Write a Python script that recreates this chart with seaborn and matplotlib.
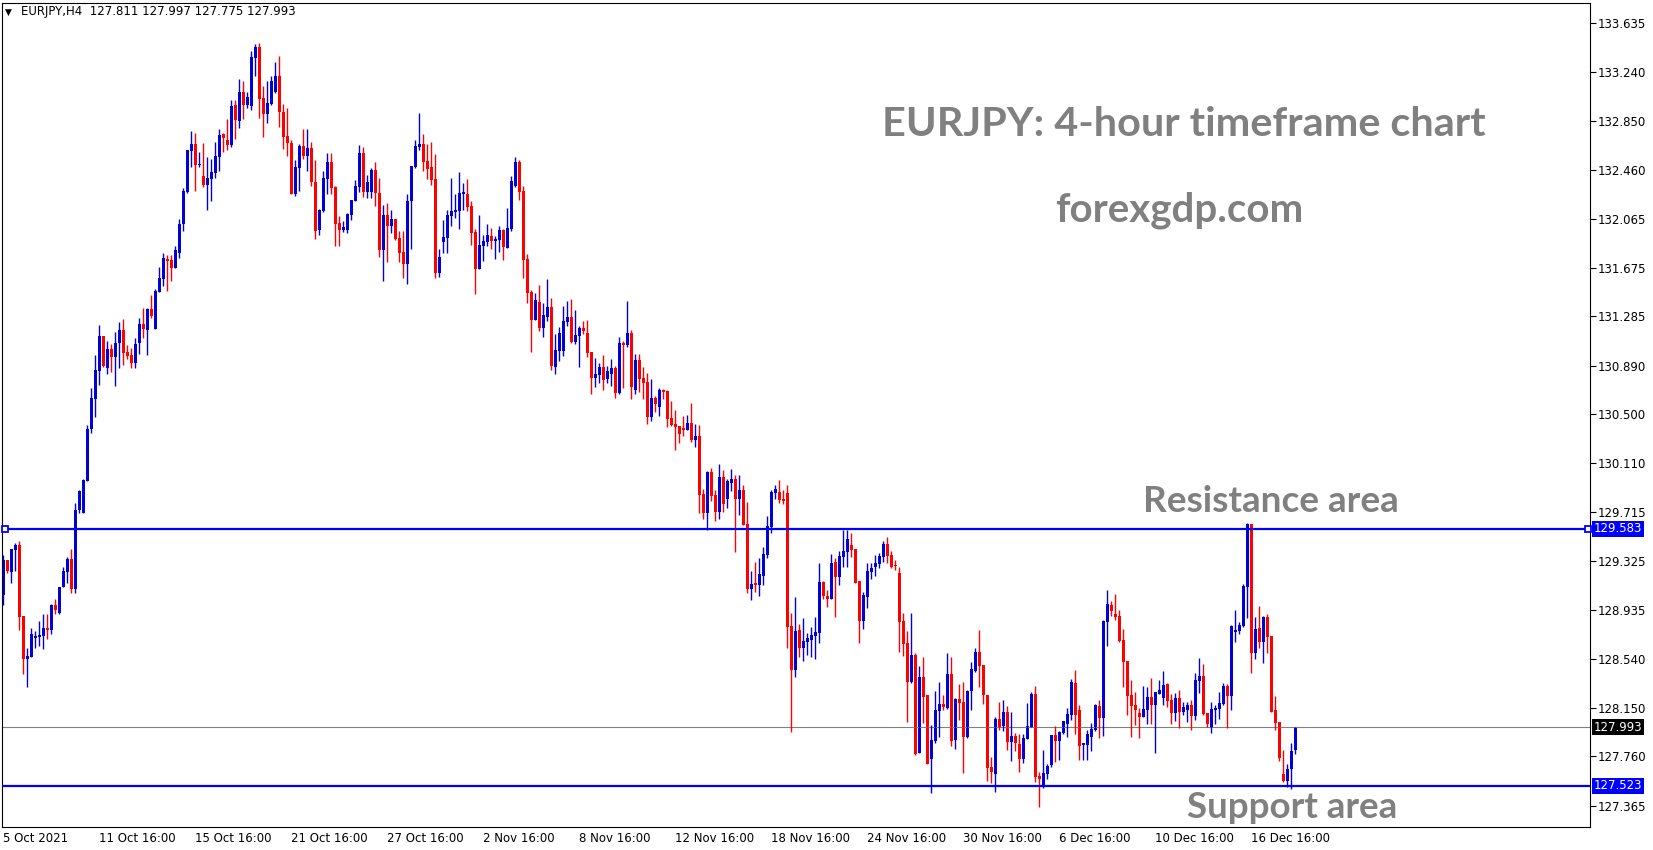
"""EURJPY H4 candlestick chart with support / resistance zones."""

import matplotlib

matplotlib.use("Agg")
import matplotlib.pyplot as plt
import matplotlib.transforms as mtransforms
import numpy as np
import seaborn as sns

# ---- data ----------------------------------------------------------------
OPENS = [
    129.051, 129.332, 129.238, 129.412, 129.452, 128.883, 128.536, 128.557, 128.707, 128.717,
    128.725, 128.787, 128.771, 128.971, 128.910, 129.113, 129.238, 129.343, 129.102, 129.733,
    129.711, 129.968, 130.379, 130.625, 130.850, 131.127, 130.874, 131.023, 130.962, 131.069,
    131.176, 130.999, 130.975, 130.914, 131.074, 131.224, 131.178, 131.344, 131.186, 131.483,
    131.587, 131.745, 131.737, 131.675, 131.795, 132.028, 132.282, 132.613, 132.666, 132.498,
    132.410, 132.340, 132.388, 132.437, 132.565, 132.746, 132.698, 132.658, 132.979, 132.853,
    133.083, 132.979, 132.974, 133.358, 133.444, 133.038, 132.907, 132.987, 133.083, 133.211,
    132.926, 132.730, 132.677, 132.266, 132.477, 132.650, 132.570, 132.634, 132.362, 131.977,
    132.129, 132.388, 132.522, 132.322, 132.033, 131.977, 131.977, 132.100, 132.212, 132.324,
    132.594, 132.284, 132.284, 132.458, 132.271, 131.817, 132.097, 132.009, 132.065, 131.913,
    131.801, 131.707, 132.209, 132.485, 132.645, 132.666, 132.530, 132.482, 132.386, 131.632,
    131.881, 131.913, 132.089, 132.124, 132.129, 132.266, 132.266, 132.169, 131.961, 131.664,
    131.849, 131.881, 131.929, 131.891, 131.897, 131.977, 131.835, 131.985, 132.330, 132.522,
    132.290, 131.745, 131.480, 131.258, 131.400, 131.194, 131.282, 131.360, 130.882, 131.010,
    131.010, 131.242, 131.280, 131.079, 131.130, 131.192, 131.152, 130.999, 130.794, 130.818,
    130.879, 130.785, 130.826, 130.871, 130.673, 131.071, 131.058, 131.152, 130.697, 130.935,
    130.791, 130.759, 130.481, 130.631, 130.561, 130.695, 130.687, 130.471, 130.425, 130.406,
    130.390, 130.377, 130.430, 130.294, 130.326, 129.861, 129.712, 130.040, 129.853, 129.720,
    129.998, 129.824, 129.950, 129.984, 129.824, 129.893, 129.621, 129.100, 129.148, 129.132,
    129.207, 129.372, 129.600, 129.869, 129.877, 129.824, 129.870, 128.803, 128.451, 128.771,
    128.630, 128.675, 128.691, 128.723, 128.750, 129.156, 129.044, 129.020, 129.316, 129.199,
    129.359, 129.399, 129.453, 129.421, 129.164, 128.846, 129.038, 129.239, 129.279, 129.300,
    129.359, 129.461, 129.372, 129.292, 129.228, 128.843, 128.667, 128.352, 128.571, 127.786,
    128.395, 128.251, 127.740, 127.885, 128.125, 128.179, 128.147, 128.419, 127.893, 128.219,
    128.195, 127.914, 128.283, 128.446, 128.595, 128.491, 128.251, 127.676, 127.620, 128.058,
    128.002, 128.115, 127.877, 127.922, 127.858, 127.740, 127.898, 127.997, 128.259, 127.604,
    127.516, 127.620, 127.689, 127.929, 127.881, 127.948, 128.020, 128.090, 128.346, 128.130,
    127.849, 127.849, 127.916, 127.969, 128.162, 128.068, 128.838, 128.971, 128.899, 128.883,
    128.691, 128.523, 128.250, 128.170, 128.106, 128.076, 128.130, 128.234, 128.170, 128.261,
    128.226, 128.338, 128.210, 128.108, 128.226, 128.116, 128.130, 128.170, 128.084, 128.365,
    128.405, 128.108, 127.988, 128.130, 128.138, 128.181, 128.322, 128.245, 128.755, 128.766,
    128.803, 129.118, 129.621, 128.589, 128.787, 128.678, 128.875, 128.723, 128.130, 128.034,
    127.617, 127.563, 127.657, 127.811,
]
HIGHS = [
    129.372, 129.332, 129.420, 129.473, 129.484, 128.883, 128.624, 128.784, 128.763, 128.843,
    128.904, 128.904, 128.979, 129.017, 129.118, 129.278, 129.359, 129.423, 129.791, 129.893,
    129.981, 130.414, 130.713, 130.975, 131.216, 131.127, 131.087, 131.063, 131.160, 131.237,
    131.264, 131.053, 131.029, 131.109, 131.269, 131.349, 131.354, 131.456, 131.507, 131.680,
    131.795, 131.774, 131.774, 131.849, 132.065, 132.311, 132.618, 132.771, 132.752, 132.600,
    132.674, 132.559, 132.546, 132.682, 132.784, 132.757, 132.867, 133.019, 133.019, 133.187,
    133.171, 133.083, 133.412, 133.468, 133.476, 133.131, 133.171, 133.211, 133.324, 133.372,
    132.984, 132.952, 132.698, 132.538, 132.666, 132.787, 132.787, 132.682, 132.538, 132.145,
    132.450, 132.594, 132.594, 132.332, 132.089, 132.049, 132.113, 132.217, 132.378, 132.658,
    132.642, 132.418, 132.474, 132.522, 132.394, 132.177, 132.191, 132.137, 132.065, 131.969,
    131.969, 132.266, 132.490, 132.698, 132.915, 132.746, 132.666, 132.682, 132.586, 131.825,
    132.057, 132.137, 132.394, 132.266, 132.442, 132.354, 132.386, 132.209, 131.985, 132.097,
    131.937, 132.025, 131.993, 131.929, 132.009, 131.985, 132.153, 132.410, 132.562, 132.538,
    132.330, 131.785, 131.496, 131.472, 131.536, 131.392, 131.584, 131.432, 131.144, 131.200,
    131.368, 131.408, 131.424, 131.336, 131.210, 131.248, 131.256, 130.999, 130.951, 130.911,
    130.975, 130.887, 130.943, 130.887, 131.119, 131.087, 131.408, 131.176, 130.983, 130.983,
    130.879, 130.831, 130.783, 130.647, 130.711, 130.703, 130.695, 130.607, 130.535, 130.406,
    130.487, 130.495, 130.591, 130.422, 130.414, 129.901, 130.048, 130.070, 129.893, 130.102,
    130.054, 129.984, 130.062, 130.014, 130.014, 129.934, 129.797, 129.244, 129.316, 129.348,
    129.436, 129.685, 129.893, 129.934, 129.974, 129.893, 129.930, 128.905, 129.036, 128.819,
    128.867, 128.747, 128.795, 128.875, 129.308, 129.164, 129.092, 129.380, 129.348, 129.404,
    129.573, 129.573, 129.549, 129.421, 129.164, 129.079, 129.308, 129.308, 129.372, 129.388,
    129.485, 129.517, 129.404, 129.332, 129.276, 128.908, 128.763, 128.908, 128.585, 128.483,
    128.555, 128.251, 128.010, 128.283, 128.355, 128.251, 128.587, 128.555, 128.227, 128.339,
    128.355, 128.291, 128.515, 128.628, 128.772, 128.491, 128.251, 127.756, 128.074, 128.195,
    128.211, 128.163, 128.115, 127.946, 127.938, 127.938, 128.187, 128.275, 128.323, 127.636,
    127.810, 127.700, 127.929, 128.004, 127.961, 128.042, 128.146, 128.378, 128.450, 128.170,
    127.865, 127.969, 128.026, 128.178, 128.210, 128.851, 129.092, 129.003, 129.060, 128.931,
    128.779, 128.523, 128.370, 128.274, 128.146, 128.322, 128.314, 128.386, 128.274, 128.370,
    128.442, 128.346, 128.258, 128.266, 128.290, 128.194, 128.194, 128.210, 128.426, 128.547,
    128.499, 128.108, 128.194, 128.170, 128.274, 128.346, 128.336, 128.811, 128.931, 128.835,
    129.140, 129.629, 129.621, 128.875, 128.963, 128.883, 128.899, 128.723, 128.242, 128.034,
    127.809, 127.697, 127.865, 127.997,
]
LOWS = [
    128.971, 129.225, 129.150, 129.246, 128.771, 128.423, 128.316, 128.557, 128.624, 128.645,
    128.616, 128.696, 128.739, 128.904, 128.899, 129.113, 129.150, 129.070, 129.065, 129.706,
    129.706, 129.968, 130.353, 130.481, 130.735, 130.876, 130.823, 130.841, 130.727, 130.868,
    130.895, 130.943, 130.874, 130.868, 130.983, 131.114, 130.975, 131.274, 131.186, 131.483,
    131.528, 131.491, 131.571, 131.675, 131.755, 131.972, 132.274, 132.485, 132.292, 132.485,
    132.324, 132.137, 132.212, 132.396, 132.450, 132.605, 132.618, 132.640, 132.706, 132.795,
    132.867, 132.958, 132.939, 133.214, 132.875, 132.725, 132.832, 132.979, 133.072, 132.805,
    132.629, 132.573, 132.266, 132.252, 132.292, 132.546, 132.453, 132.332, 131.905, 131.937,
    132.124, 132.266, 132.266, 131.849, 131.849, 131.964, 131.956, 132.057, 132.212, 132.284,
    132.239, 132.231, 132.231, 132.172, 131.763, 131.571, 131.723, 131.956, 131.897, 131.720,
    131.592, 131.544, 131.825, 132.477, 132.618, 132.453, 132.386, 132.338, 131.592, 131.600,
    131.795, 131.793, 132.009, 132.073, 131.985, 132.137, 132.129, 131.857, 131.464, 131.664,
    131.728, 131.849, 131.825, 131.744, 131.801, 131.736, 131.835, 131.969, 132.322, 132.217,
    131.592, 131.395, 131.002, 131.258, 131.170, 131.122, 131.250, 130.858, 130.826, 130.927,
    130.970, 131.210, 131.071, 131.063, 130.882, 131.146, 130.962, 130.665, 130.721, 130.753,
    130.697, 130.753, 130.729, 130.633, 130.665, 130.713, 131.042, 130.625, 130.665, 130.681,
    130.625, 130.425, 130.449, 130.519, 130.487, 130.623, 130.401, 130.406, 130.214, 130.273,
    130.326, 130.374, 130.281, 130.241, 129.712, 129.664, 129.573, 129.808, 129.648, 129.664,
    129.720, 129.752, 129.888, 129.399, 129.693, 129.613, 129.070, 129.012, 129.078, 129.044,
    129.132, 129.351, 129.551, 129.824, 129.792, 129.781, 128.624, 127.956, 128.397, 128.558,
    128.525, 128.571, 128.555, 128.541, 128.670, 129.020, 128.956, 129.020, 128.878, 129.132,
    129.276, 129.276, 129.354, 129.145, 128.670, 128.782, 128.950, 129.183, 129.204, 129.268,
    129.316, 129.308, 129.268, 129.252, 128.598, 128.566, 128.036, 128.346, 127.770, 127.786,
    128.029, 127.700, 127.468, 127.869, 127.914, 128.131, 128.139, 127.842, 127.821, 128.050,
    127.626, 127.906, 128.131, 128.438, 128.318, 128.179, 127.564, 127.548, 127.473, 127.970,
    127.962, 127.810, 127.724, 127.802, 127.636, 127.708, 127.898, 127.997, 127.556, 127.356,
    127.508, 127.580, 127.676, 127.716, 127.729, 127.937, 127.916, 128.050, 127.937, 127.729,
    127.729, 127.729, 127.801, 127.961, 127.908, 127.921, 128.643, 128.883, 128.851, 128.678,
    128.314, 128.090, 127.913, 128.010, 127.905, 128.076, 128.018, 128.018, 127.785, 128.258,
    128.170, 128.154, 128.018, 128.044, 127.988, 128.090, 128.036, 127.972, 128.052, 128.269,
    128.090, 127.996, 127.948, 128.020, 128.058, 128.170, 127.988, 128.130, 128.675, 128.742,
    128.798, 128.865, 128.429, 128.541, 128.630, 128.509, 128.589, 128.116, 127.969, 127.724,
    127.555, 127.515, 127.494, 127.775,
]
CLOSES = [
    129.332, 129.246, 129.420, 129.452, 128.878, 128.536, 128.562, 128.739, 128.723, 128.733,
    128.784, 128.771, 128.971, 128.931, 129.118, 129.246, 129.343, 129.102, 129.733, 129.885,
    129.973, 130.382, 130.633, 130.855, 131.127, 130.887, 131.023, 130.962, 131.074, 131.176,
    130.994, 130.970, 130.914, 131.068, 131.224, 131.186, 131.344, 131.288, 131.488, 131.592,
    131.753, 131.731, 131.675, 131.817, 132.025, 132.290, 132.618, 132.666, 132.498, 132.506,
    132.338, 132.394, 132.442, 132.570, 132.738, 132.717, 132.658, 132.971, 132.859, 133.083,
    132.979, 133.043, 133.364, 133.444, 133.027, 132.907, 132.992, 133.171, 133.211, 132.926,
    132.725, 132.672, 132.266, 132.482, 132.650, 132.570, 132.634, 132.362, 131.969, 132.137,
    132.394, 132.522, 132.316, 132.028, 131.977, 132.001, 132.105, 132.217, 132.330, 132.594,
    132.284, 132.362, 132.458, 132.271, 131.817, 132.097, 132.009, 132.065, 131.905, 131.795,
    131.707, 132.209, 132.490, 132.650, 132.666, 132.525, 132.466, 132.378, 131.632, 131.760,
    131.921, 132.097, 132.129, 132.137, 132.274, 132.282, 132.161, 131.953, 131.664, 131.857,
    131.889, 131.937, 131.889, 131.905, 131.977, 131.841, 131.993, 132.370, 132.522, 132.282,
    131.736, 131.475, 131.258, 131.416, 131.194, 131.296, 131.360, 130.890, 131.015, 131.152,
    131.248, 131.280, 131.079, 131.136, 131.192, 131.170, 130.994, 130.794, 130.823, 130.879,
    130.777, 130.847, 130.871, 130.673, 131.071, 131.058, 131.152, 130.721, 130.935, 130.785,
    130.753, 130.481, 130.631, 130.583, 130.695, 130.682, 130.465, 130.414, 130.401, 130.345,
    130.374, 130.430, 130.294, 130.326, 129.853, 129.712, 130.040, 129.845, 129.720, 129.998,
    129.784, 129.968, 129.984, 129.824, 129.893, 129.613, 129.100, 129.140, 129.132, 129.220,
    129.380, 129.605, 129.877, 129.901, 129.813, 129.808, 128.798, 128.451, 128.763, 128.630,
    128.683, 128.707, 128.731, 128.755, 129.156, 129.044, 129.020, 129.308, 129.199, 129.364,
    129.404, 129.501, 129.413, 129.151, 128.846, 129.052, 129.244, 129.268, 129.308, 129.364,
    129.461, 129.364, 129.279, 129.287, 128.838, 128.662, 128.357, 128.571, 127.778, 128.395,
    128.235, 127.700, 127.890, 128.131, 128.179, 128.155, 128.419, 127.885, 128.219, 128.187,
    127.914, 128.283, 128.459, 128.595, 128.483, 128.251, 127.668, 127.636, 128.058, 127.997,
    128.115, 127.877, 127.922, 127.869, 127.740, 127.906, 128.002, 128.259, 127.596, 127.580,
    127.626, 127.680, 127.929, 127.884, 127.953, 128.042, 128.098, 128.354, 128.090, 127.844,
    127.865, 127.937, 127.977, 128.170, 128.068, 128.843, 128.979, 128.926, 128.878, 128.683,
    128.515, 128.242, 128.165, 128.130, 128.076, 128.138, 128.234, 128.170, 128.274, 128.290,
    128.330, 128.202, 128.108, 128.226, 128.116, 128.154, 128.170, 128.084, 128.370, 128.405,
    128.100, 128.018, 128.138, 128.146, 128.186, 128.322, 128.245, 128.803, 128.771, 128.811,
    129.124, 129.621, 128.589, 128.779, 128.675, 128.875, 128.715, 128.116, 128.028, 127.742,
    127.563, 127.657, 127.801, 127.993,
]

Y_TICKS = [
    133.635, 133.240, 132.850, 132.460, 132.065, 131.675, 131.285, 130.890, 130.500,
    130.110, 129.715, 129.325, 128.935, 128.540, 128.150, 127.760, 127.365,
]
X_TICK_LABELS = [
    "5 Oct 2021", "11 Oct 16:00", "15 Oct 16:00", "21 Oct 16:00", "27 Oct 16:00",
    "2 Nov 16:00", "8 Nov 16:00", "12 Nov 16:00", "18 Nov 16:00", "24 Nov 16:00",
    "30 Nov 16:00", "6 Dec 16:00", "10 Dec 16:00", "16 Dec 16:00",
]
BARS_PER_LABEL = 24
RESISTANCE = 129.583
SUPPORT = 127.523
SYMBOL = "EURJPY,H4"

# ---- style -----------------------------------------------------------------
BULL = "#0000D8"
BEAR = "#FF0000"
LEVEL_BLUE = "#0000FF"
NOTE_GRAY = "#808080"
W, H = 1653, 850

sns.set_theme(style="white", rc={"axes.edgecolor": "black", "axes.linewidth": 0.8})
plt.rcParams["font.family"] = ["DejaVu Sans"]

fig = plt.figure(figsize=(W / 100, H / 100), dpi=100)
ax = fig.add_axes([2 / W, (H - 827) / H, (1590 - 2) / W, (827 - 3) / H])

opens = np.array(OPENS)
closes = np.array(CLOSES)
x = np.arange(len(opens))
colors = np.where(closes >= opens, BULL, BEAR)

# candles: wicks then bodies
ax.vlines(x, LOWS, HIGHS, colors=colors, linewidth=1.0)
body_low = np.minimum(opens, closes)
body_h = np.maximum(np.abs(closes - opens), 0.006)
ax.bar(x, body_h, bottom=body_low, width=0.72, color=colors, linewidth=0)

# horizontal levels
ax.axhline(RESISTANCE, color=LEVEL_BLUE, linewidth=1.6, zorder=3)
ax.axhline(SUPPORT, color=LEVEL_BLUE, linewidth=1.6, zorder=3)
ax.axhline(closes[-1], color="#808080", linewidth=0.8, zorder=1)
trans = mtransforms.blended_transform_factory(ax.transAxes, ax.transData)
ax.plot([0.002, 0.9985], [RESISTANCE, RESISTANCE], linestyle="none", marker="s",
        markersize=4, markerfacecolor="white", markeredgecolor=LEVEL_BLUE,
        markeredgewidth=1.3, transform=trans, zorder=4, clip_on=False)

ax.set_xlim(-0.33, 396.7)
ax.set_ylim(127.193, 133.797)

# price axis on the right
ax.yaxis.tick_right()
ax.set_yticks(Y_TICKS)
ax.set_yticklabels([f"{v:.3f}" for v in Y_TICKS], fontsize=8.5, color="black")
ax.tick_params(axis="y", direction="out", length=4, width=0.8, pad=1.5, colors="black")

# time axis
ax.set_xticks(np.arange(len(X_TICK_LABELS)) * BARS_PER_LABEL)
ax.set_xticklabels(X_TICK_LABELS, fontsize=8.5, ha="left", color="black")
ax.tick_params(axis="x", direction="out", length=3, width=0.8, pad=0.5, colors="black")
for spine in ax.spines.values():
    spine.set_visible(True)
    spine.set_color("black")

# price tags on the axis
for price, face in [(RESISTANCE, LEVEL_BLUE), (closes[-1], "black"), (SUPPORT, LEVEL_BLUE)]:
    ax.text(1.0025, price, f"{price:.3f}", transform=trans, ha="left", va="center",
            fontsize=8.5, color="white",
            bbox=dict(boxstyle="square,pad=0.15", facecolor=face, edgecolor="none"))

# header
fig.text(5 / W, 1 - 12 / H, "\u25bc", fontsize=6.5, color="black", va="center")
fig.text(21 / W, 1 - 12 / H,
         f"{SYMBOL}  {OPENS[-1]:.3f} {HIGHS[-1]:.3f} {LOWS[-1]:.3f} {CLOSES[-1]:.3f}",
         fontsize=8.5, color="black", va="center")

# annotations
note = dict(ha="center", va="center", fontweight="bold", color=NOTE_GRAY, family="Lato")
fig.text(1184 / W, 1 - 125 / H, "EURJPY: 4-hour timeframe chart", fontsize=29.8, **note)
fig.text(1179 / W, 1 - 210 / H, "forexgdp.com", fontsize=29, **note)
fig.text(1271 / W, 1 - 502 / H, "Resistance area", fontsize=26.6, **note)
fig.text(1292 / W, 1 - 808 / H, "Support area", fontsize=26.5, **note)

fig.savefig("out.png", dpi=100)
plt.close(fig)
